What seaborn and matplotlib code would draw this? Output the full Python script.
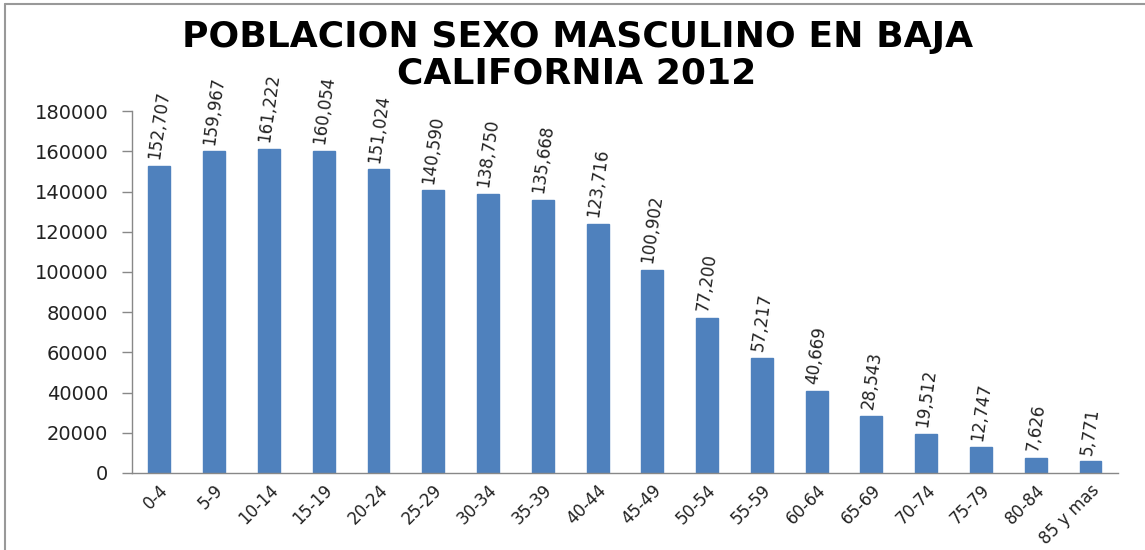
import matplotlib
matplotlib.use("Agg")
import matplotlib.pyplot as plt
import seaborn as sns
import pandas as pd
import numpy as np
from matplotlib.lines import Line2D

categories = ["0-4", "5-9", "10-14", "15-19", "20-24", "25-29", "30-34", "35-39",
              "40-44", "45-49", "50-54", "55-59", "60-64", "65-69", "70-74",
              "75-79", "80-84", "85 y mas"]
values = [152707, 159967, 161222, 160054, 151024, 140590, 138750, 135668,
          123716, 100902, 77200, 57217, 40669, 28543, 19512, 12747, 7626, 5771]
yticks = [0, 20000, 40000, 60000, 80000, 100000, 120000, 140000, 160000, 180000]

sns.set_theme(style="white")
plt.rcParams['font.family'] = ['DejaVu Sans']

df = pd.DataFrame({"grupo": categories, "poblacion": values})

fig = plt.figure(figsize=(11.45, 5.5), dpi=100)
ax = fig.add_axes([0.1153, 0.14, 0.861, 0.658])
sns.barplot(data=df, x="grupo", y="poblacion", color="#4F81BD", width=0.4,
            saturation=1, ax=ax, edgecolor="#4F81BD")

ax.set_xlim(-0.5, len(categories) - 0.5)
ax.set_ylim(0, 180000)
ax.set_yticks(yticks)
ax.set_yticklabels([str(v) for v in yticks], fontsize=14, color="#222222")
ax.set_xlabel("")
ax.set_ylabel("")
ax.set_xticks(range(len(categories)))
ax.set_xticklabels(categories, rotation=45, ha="right", rotation_mode="anchor",
                   fontsize=12, color="#222222")
ax.set_xticks(np.arange(-0.5, len(categories), 1.0), minor=True)
ax.tick_params(axis="x", which="major", length=0, pad=6)
ax.tick_params(axis="x", which="minor", length=5, width=1, color="#888888", direction="out")
ax.tick_params(axis="y", length=7, width=1, color="#888888", direction="out", left=True, pad=10)
for s in ["top", "right"]:
    ax.spines[s].set_visible(False)
for s in ["left", "bottom"]:
    ax.spines[s].set_color("#888888")
    ax.spines[s].set_linewidth(1)

for i, v in enumerate(values):
    ax.annotate(f"{v:,}", xy=(i, v), xytext=(0, 4), textcoords="offset points",
                rotation=82, ha="center", va="bottom", fontsize=12,
                color="#222222")

fig.text(0.504, 0.932, "POBLACION SEXO MASCULINO EN BAJA", ha="center", va="center",
         fontsize=26, fontweight="bold", color="black")
fig.text(0.504, 0.866, "CALIFORNIA 2012", ha="center", va="center",
         fontsize=26, fontweight="bold", color="black")

fig.lines.append(Line2D([0.0045, 0.0045], [0.0, 0.993], transform=fig.transFigure,
                        color="#999999", linewidth=1.5))
fig.lines.append(Line2D([0.0045, 1.0], [0.993, 0.993], transform=fig.transFigure,
                        color="#999999", linewidth=1.5))

fig.savefig("out.png", dpi=100)
